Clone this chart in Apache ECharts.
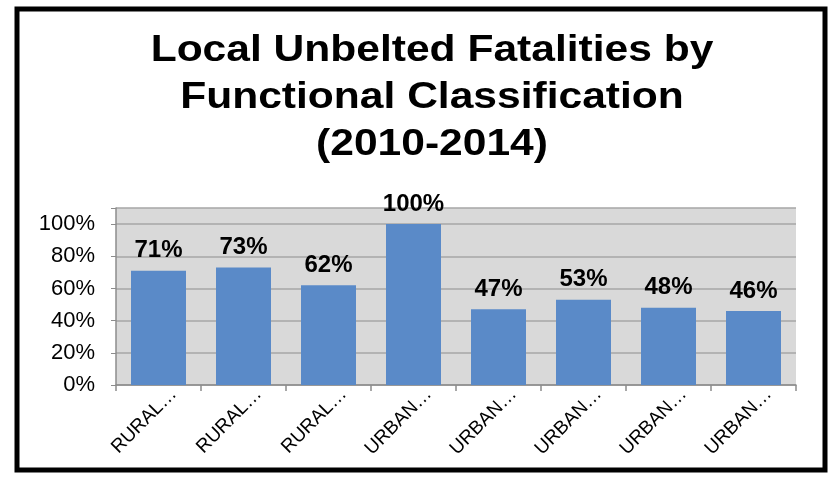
<!DOCTYPE html>
<html><head><meta charset="utf-8">
<script src="https://cdn.jsdelivr.net/npm/echarts@6/dist/echarts.min.js"></script>
<style>html,body{margin:0;padding:0;background:#fff}#c{width:831px;height:483px}</style>
</head><body><div id="c"></div>
<script>
const titleText = "Local Unbelted Fatalities by\nFunctional Classification\n(2010-2014)";
const categories = ["RURAL…","RURAL…","RURAL…","URBAN…","URBAN…","URBAN…","URBAN…","URBAN…"];
const values = [71, 73, 62, 100, 47, 53, 48, 46];
const yTicks = [0, 20, 40, 60, 80, 100];

const chart = echarts.init(document.getElementById('c'));
chart.setOption({
  backgroundColor: '#fff',
  animation: false,
  graphic: [{
    type: 'rect', shape: {x: 17, y: 9, width: 808, height: 461},
    style: {fill: null, stroke: '#000', lineWidth: 5}, z: 100
  }, {
    type: 'text', x: 432, y: 27, scaleX: 1.15, z: 100,
    style: {text: titleText, font: 'bold 37px "Liberation Sans", Arial', fill: '#000',
      align: 'center', verticalAlign: 'top', lineHeight: 47}
  }],
  grid: {left: 116, right: 35, top: 208, bottom: 98, show: true, backgroundColor: '#d9d9d9', borderWidth: 0},
  xAxis: {
    type: 'category', data: categories,
    axisLine: {lineStyle: {color: '#8c8c8c', width: 1.5}},
    axisTick: {show: true, length: 6, lineStyle: {color: '#8c8c8c', width: 1.5}},
    axisLabel: {rotate: 45, interval: 0, fontFamily: 'Liberation Sans, Arial', fontSize: 19, color: '#000',
      margin: 8, verticalAlign: 'top', padding: [0, -12, 0, 0]}
  },
  yAxis: {
    type: 'value', min: 0, max: 110, interval: 20,
    axisLine: {show: true, lineStyle: {color: '#8c8c8c', width: 1.5}},
    axisTick: {show: true, length: 5, lineStyle: {color: '#8c8c8c'}},
    splitLine: {lineStyle: {color: '#a6a6a6', width: 1.5}},
    axisLabel: {
      fontFamily: 'Liberation Sans, Arial', fontSize: 22, color: '#000', margin: 21,
      formatter: v => yTicks.indexOf(v) >= 0 ? v + '%' : ''
    }
  },
  series: [{
    type: 'bar', data: values, barWidth: 55,
    itemStyle: {color: '#5a8ac8'},
    label: {show: true, position: 'top', distance: 8, formatter: p => p.value + '%',
      fontFamily: 'Liberation Sans, Arial', fontSize: 24, fontWeight: 'bold', color: '#000'}
  }]
});
</script></body></html>
